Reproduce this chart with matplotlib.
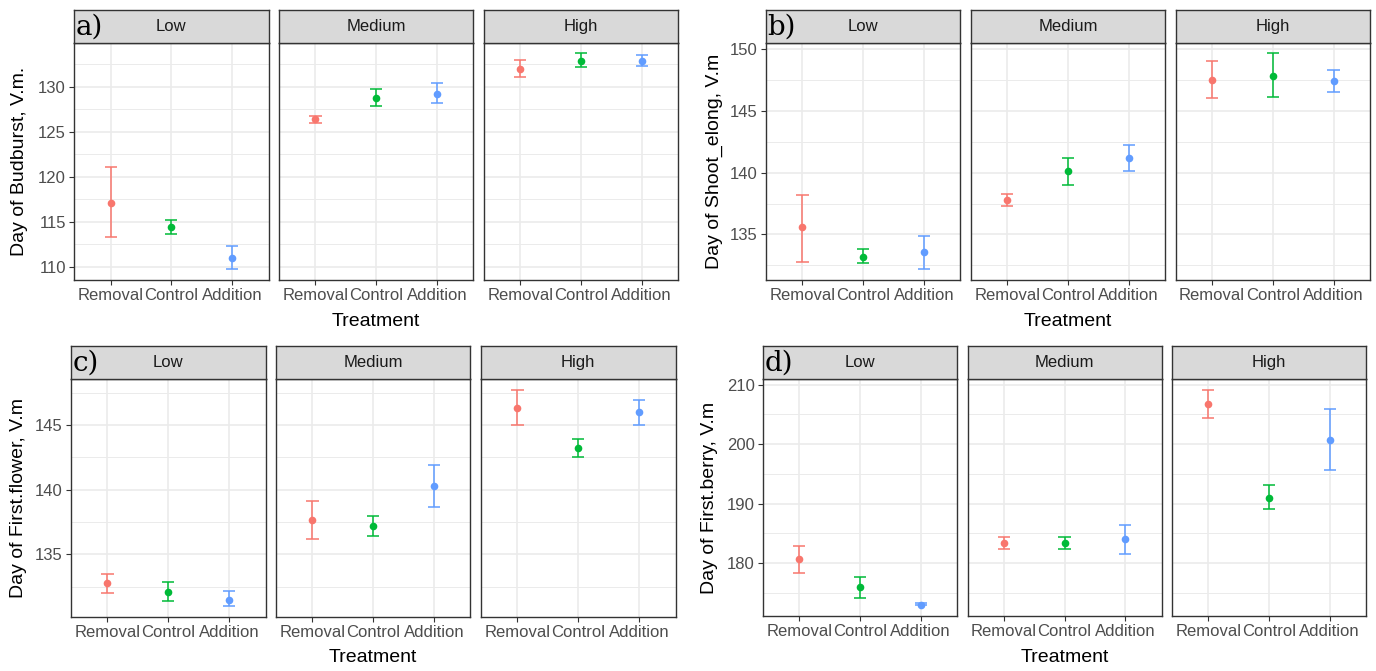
import matplotlib
matplotlib.use("Agg")
import matplotlib.pyplot as plt
from matplotlib.ticker import MultipleLocator

treatments = ["Removal", "Control", "Addition"]
levels = ["Low", "Medium", "High"]
colors = ["#F8766D", "#00BA38", "#619CFF"]

# values per level (Low, Medium, High) x treatment (Removal, Control, Addition)
budburst_mean = [[117.1, 114.4, 111.0], [126.4, 128.8, 129.2], [132.0, 132.9, 132.9]]
budburst_lo = [[113.3, 113.6, 109.7], [126.0, 127.9, 128.2], [131.1, 132.2, 132.3]]
budburst_hi = [[121.1, 115.2, 112.3], [126.8, 129.7, 130.4], [133.0, 133.7, 133.5]]

shoot_mean = [[135.6, 133.2, 133.6], [137.8, 140.1, 141.2], [147.5, 147.8, 147.4]]
shoot_lo = [[132.8, 132.7, 132.2], [137.3, 139.0, 140.1], [146.0, 146.1, 146.5]]
shoot_hi = [[138.2, 133.8, 134.9], [138.3, 141.2, 142.2], [149.0, 149.6, 148.3]]

flower_mean = [[132.8, 132.1, 131.5], [137.7, 137.2, 140.3], [146.3, 143.2, 146.0]]
flower_lo = [[132.0, 131.4, 131.0], [136.2, 136.4, 138.7], [145.0, 142.5, 145.0]]
flower_hi = [[133.5, 132.9, 132.2], [139.1, 138.0, 141.9], [147.7, 143.9, 146.9]]

berry_mean = [[180.7, 175.9, 173.0], [183.4, 183.4, 184.1], [206.8, 191.0, 200.7]]
berry_lo = [[178.4, 174.2, 172.9], [182.3, 182.4, 181.6], [204.4, 189.1, 195.6]]
berry_hi = [[182.9, 177.7, 173.2], [184.4, 184.4, 186.4], [209.1, 193.1, 205.9]]

panel_tags = ["a)", "b)", "c)", "d)"]
y_titles = ["Day of Budburst, V.m.", "Day of Shoot_elong, V.m",
            "Day of First.flower, V.m", "Day of First.berry, V.m"]
y_steps = [5, 5, 5, 10]
x_title = "Treatment"

W, H = 1376, 671
fig = plt.figure(figsize=(W / 100, H / 100), dpi=100)
fig.patch.set_facecolor("white")

SANS = "Liberation Sans"
GRID = "#EBEBEB"
BORDER = "#333333"


def px_axes(x0, y0, x1, y1):
    return fig.add_axes([x0 / W, 1 - y1 / H, (x1 - x0) / W, (y1 - y0) / H])


# layout in pixels: (left, right of facet row, strip top, strip bottom, panel bottom,
#                    ylabel x, xlabel y)
layouts = [
    (74.3, 678.0, 10.0, 42.7, 280.0, 20.0, 322.0),
    (766.0, 1370.0, 10.0, 42.7, 280.0, 714.0, 322.0),
    (71.0, 675.5, 345.7, 379.3, 617.0, 18.5, 658.0),
    (763.0, 1366.0, 345.7, 379.3, 616.0, 710.0, 658.0),
]

datasets = [
    (budburst_mean, budburst_lo, budburst_hi),
    (shoot_mean, shoot_lo, shoot_hi),
    (flower_mean, flower_lo, flower_hi),
    (berry_mean, berry_lo, berry_hi),
]

gap = 10.5
xs = [1, 2, 3]
for p, ((left, right, st, sb, pb, ylx, xly), (mean, lo, hi)) in enumerate(zip(layouts, datasets)):
    fw = (right - left - 2 * gap) / 3
    allv = [v for row in lo for v in row] + [v for row in hi for v in row]
    vmin, vmax = min(allv), max(allv)
    pad = 0.05 * (vmax - vmin)
    ylim = (vmin - pad, vmax + pad)
    for f in range(3):
        x0 = left + f * (fw + gap)
        x1 = x0 + fw
        ax = px_axes(x0, sb, x1, pb)
        ax.set_facecolor("white")
        ax.set_xlim(0.4, 3.6)
        ax.set_ylim(*ylim)
        ax.yaxis.set_major_locator(MultipleLocator(y_steps[p]))
        ax.yaxis.set_minor_locator(MultipleLocator(y_steps[p] / 2))
        ax.set_xticks(xs)
        ax.set_xticklabels(treatments, fontsize=12, color="#4D4D4D", family=SANS)
        ax.grid(True, which="major", axis="both", color=GRID, lw=1.2, zorder=0)
        ax.grid(True, which="minor", axis="y", color=GRID, lw=0.7, zorder=0)
        ax.set_axisbelow(True)
        ax.tick_params(axis="both", which="major", length=3.5, width=0.8, color=BORDER, pad=2.5)
        ax.tick_params(axis="y", which="minor", length=0)
        ax.tick_params(axis="y", labelsize=12, labelcolor="#4D4D4D")
        for lab in ax.get_yticklabels():
            lab.set_family(SANS)
        if f > 0:
            ax.tick_params(axis="y", which="major", length=0, labelleft=False)
        for s in ax.spines.values():
            s.set_color(BORDER)
            s.set_linewidth(1.0)
        w = 0.1
        for t in range(3):
            c = colors[t]
            ax.vlines(xs[t], lo[f][t], hi[f][t], color=c, lw=1.1, zorder=3)
            ax.hlines([lo[f][t], hi[f][t]], xs[t] - w, xs[t] + w, color=c, lw=1.1, zorder=3)
            ax.plot(xs[t], mean[f][t], "o", color=c, ms=5.5, mew=0, zorder=4)
        # strip
        sax = px_axes(x0, st, x1, sb)
        sax.set_facecolor("#D9D9D9")
        sax.set_xticks([])
        sax.set_yticks([])
        for s in sax.spines.values():
            s.set_color(BORDER)
            s.set_linewidth(1.0)
        sax.text(0.5, 0.5, levels[f], transform=sax.transAxes, ha="center", va="center",
                 fontsize=12, color="#1A1A1A", family=SANS)
        if f == 0:
            sax.text(0.008, 0.47, panel_tags[p], transform=sax.transAxes, ha="left",
                     va="center", fontsize=20, color="black", family="DejaVu Serif")
    # axis titles
    mid_center = left + fw + gap + fw / 2
    fig.text(mid_center / W, 1 - xly / H, x_title, ha="center", va="center",
             fontsize=14, color="black", family=SANS)
    fig.text(ylx / W, 1 - (sb + pb) / 2 / H, y_titles[p], ha="center", va="center",
             rotation=90, fontsize=14, color="black", family=SANS)

fig.savefig("out.png", dpi=100, facecolor="white")
